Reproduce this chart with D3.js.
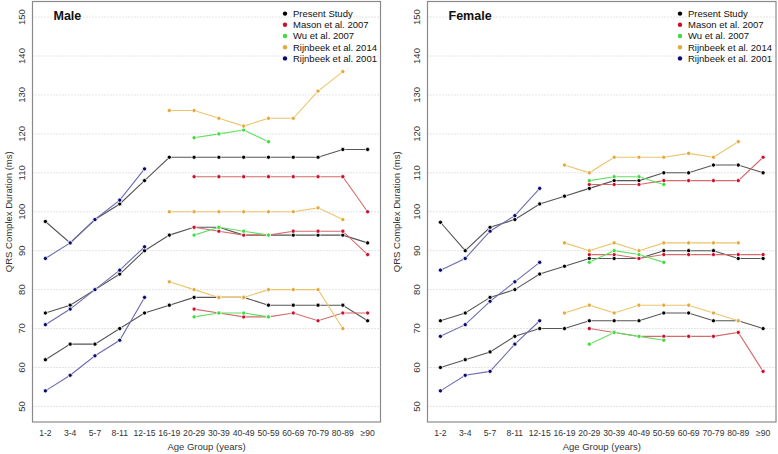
<!DOCTYPE html>
<html>
<head>
<meta charset="utf-8">
<script src="https://cdn.jsdelivr.net/npm/d3@7"></script>
<style>
  body { margin: 0; background: #fff; }
  text { font-family: "Liberation Sans", Arial, Helvetica, sans-serif; fill: #222; }
</style>
</head>
<body>
<script>
// age groups on the x axis
var ageGroups = ["1-2", "3-4", "5-7", "8-11", "12-15", "16-19", "20-29", "30-39",
                 "40-49", "50-59", "60-69", "70-79", "80-89", "≥90"];
var yTicks = [50, 60, 70, 80, 90, 100, 110, 120, 130, 140, 150];

// each study: 3 percentile lines, starting at studyStart[] in ageGroups
// --- Male ---
var malePresent = [
  [97.5, 92, 98, 102, 108, 114, 114, 114, 114, 114, 114, 114, 116, 116],
  [74, 76, 80, 84, 90, 94, 96, 96, 94, 94, 94, 94, 94, 92],
  [62, 66, 66, 70, 74, 76, 78, 78, 78, 76, 76, 76, 76, 72]
];
var maleMason = [   // from 20-29
  [109, 109, 109, 109, 109, 109, 109, 100],
  [96, 95, 94, 94, 95, 95, 95, 89],
  [75, 74, 73, 73, 74, 72, 74, 74]
];
var maleWu = [      // 20-29 .. 50-59
  [119, 120, 121, 118],
  [94, 96, 95, 94],
  [73, 74, 74, 73]
];
var maleRijn2014 = [ // 16-19 .. 80-89
  [126, 126, 124, 122, 124, 124, 131, 136],
  [100, 100, 100, 100, 100, 100, 101, 98],
  [82, 80, 78, 78, 80, 80, 80, 70]
];
var maleRijn2001 = [ // 1-2 .. 12-15
  [88, 92, 98, 103, 111],
  [71, 75, 80, 85, 91],
  [54, 58, 63, 67, 78]
];

// --- Female ---
var femalePresent = [
  [97.3, 90, 96, 98, 102, 104, 106, 108, 108, 110, 110, 112, 112, 110],
  [72, 74, 78, 80, 84, 86, 88, 88, 88, 90, 90, 90, 88, 88],
  [60, 62, 64, 68, 70, 70, 72, 72, 72, 74, 74, 72, 72, 70]
];
var femaleMason = [
  [107, 107, 107, 108, 108, 108, 108, 114],
  [89, 89, 88, 89, 89, 89, 89, 89],
  [70, 69, 68, 68, 68, 68, 69, 59]
];
var femaleWu = [
  [108, 109, 109, 107],
  [87, 90, 89, 87],
  [66, 69, 68, 67]
];
var femaleRijn2014 = [
  [112, 110, 114, 114, 114, 115, 114, 118],
  [92, 90, 92, 90, 92, 92, 92, 92],
  [74, 76, 74, 76, 76, 76, 74, 72]
];
var femaleRijn2001 = [
  [85, 88, 95, 99, 106],
  [68, 71, 77, 82, 87],
  [54, 58, 59, 66, 72]
];

var studyNames = ["Present Study", "Mason et al. 2007", "Wu et al. 2007", "Rijnbeek et al. 2014", "Rijnbeek et al. 2001"];
var studyStart = [0, 6, 6, 5, 0];
var pointColors = ["#000000", "#c8102e", "#3ddc3d", "#e3a83c", "#0a0a6e"];
var lineColors  = ["#555555", "#d46a6a", "#5fe05f", "#ecc46a", "#6b6bb0"];

var W = 778, H = 454;
var svg = d3.select("body").append("svg").attr("width", W).attr("height", H);

function panel(title, series, box) {
  var g = svg.append("g");

  var x = d3.scalePoint().domain(ageGroups).range([box.left, box.right]).padding(0.52);
  var y = d3.scaleLinear().domain([46, 154]).range([box.bottom, box.top]);

  // dotted grid
  g.selectAll(".grid").data(yTicks).enter().append("line")
    .attr("x1", box.left).attr("x2", box.right)
    .attr("y1", function(d) { return y(d); }).attr("y2", function(d) { return y(d); })
    .attr("stroke", "#c8c8c8").attr("stroke-width", 1).attr("stroke-dasharray", "1,2");

  // y tick labels (rotated like R)
  g.selectAll(".ytl").data(yTicks).enter().append("text")
    .attr("transform", function(d) { return "translate(" + box.ylab + "," + y(d) + ") rotate(-90)"; })
    .attr("text-anchor", "middle").attr("dy", "0.35em")
    .style("font-size", "9.5px").style("fill", "#333")
    .text(function(d) { return d; });

  // x tick labels
  g.selectAll(".xtl").data(ageGroups).enter().append("text")
    .attr("x", function(d) { return x(d); }).attr("y", 436)
    .attr("text-anchor", "middle")
    .style("font-size", "8.6px").style("fill", "#333")
    .text(function(d) { return d; });

  g.append("text")
    .attr("x", (box.left + box.right) / 2).attr("y", 450)
    .attr("text-anchor", "middle").style("font-size", "9.5px").style("fill", "#333")
    .text("Age Group (years)");

  g.append("text")
    .attr("transform", "translate(" + box.ytitle + "," + ((box.top + box.bottom) / 2) + ") rotate(-90)")
    .attr("text-anchor", "middle").attr("dy", "0.35em")
    .style("font-size", "9.5px").style("fill", "#333")
    .text("QRS Complex Duration (ms)");

  var line = d3.line()
    .x(function(d) { return x(d.age); })
    .y(function(d) { return y(d.v); });

  series.forEach(function(study, si) {
    study.forEach(function(vals) {
      var pts = vals.map(function(v, i) { return {age: ageGroups[studyStart[si] + i], v: v}; });
      g.append("path").datum(pts)
        .attr("d", line).attr("fill", "none")
        .attr("stroke", lineColors[si]).attr("stroke-width", 1.1);
      g.selectAll(null).data(pts).enter().append("circle")
        .attr("cx", function(d) { return x(d.age); })
        .attr("cy", function(d) { return y(d.v); })
        .attr("r", 2.1)
        .attr("fill", pointColors[si])
        .attr("stroke", "#fff").attr("stroke-width", 0.8);
    });
  });

  // frame
  g.append("rect")
    .attr("x", box.left).attr("y", box.top)
    .attr("width", box.right - box.left).attr("height", box.bottom - box.top)
    .attr("fill", "none").attr("stroke", "#8a8a8a").attr("stroke-width", 1.2);

  // title
  g.append("text")
    .attr("x", box.left + 21).attr("y", 20)
    .style("font-size", "12.5px").style("font-weight", "bold").style("fill", "#111")
    .text(title);

  // legend
  var leg = g.selectAll(".leg").data(studyNames).enter().append("g")
    .attr("transform", function(d, i) { return "translate(" + box.legX + "," + (13.6 + i * 11.2) + ")"; });
  leg.append("circle").attr("r", 2.2)
    .attr("fill", function(d, i) { return pointColors[i]; });
  leg.append("text").attr("x", 8).attr("dy", "0.35em")
    .style("font-size", "9.5px").style("fill", "#111")
    .text(function(d) { return d; });
}

panel("Male", [malePresent, maleMason, maleWu, maleRijn2014, maleRijn2001],
  {left: 32.5, right: 380.5, top: 1.5, bottom: 422, ylab: 22, ytitle: 8.5, legX: 285});
panel("Female", [femalePresent, femaleMason, femaleWu, femaleRijn2014, femaleRijn2001],
  {left: 427.5, right: 776, top: 1.5, bottom: 422, ylab: 416.5, ytitle: 396.5, legX: 680});
</script>
</body>
</html>
